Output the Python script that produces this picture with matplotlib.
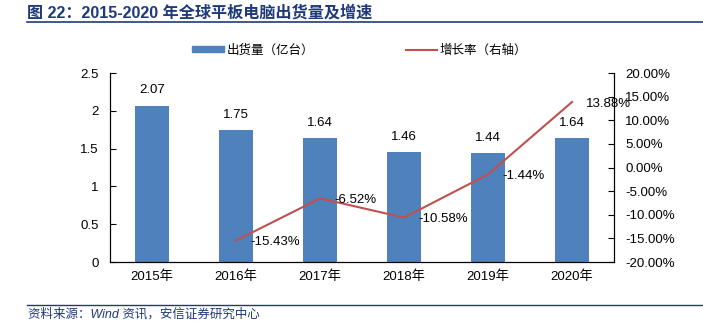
import matplotlib.pyplot as plt
from matplotlib.lines import Line2D
from matplotlib.patches import Patch
import numpy as np

plt.rcParams['font.family'] = ['Liberation Sans', 'Noto Sans CJK SC', 'DejaVu Sans']

years = ["2015年", "2016年", "2017年", "2018年", "2019年", "2020年"]
shipments = [2.07, 1.75, 1.64, 1.46, 1.44, 1.64]
growth = [np.nan, -15.43, -6.52, -10.58, -1.44, 13.88]

BAR_C = "#4F81BD"
LINE_C = "#C0504D"
TITLE_C = "#1F3A7A"

fig = plt.figure(figsize=(7.03, 3.26), dpi=100)
ax = fig.add_axes([0.1565, 0.196, 0.717, 0.580])
x = np.arange(len(years))
ax.bar(x, shipments, width=0.4, color=BAR_C, zorder=2)
for xi, v in zip(x, shipments):
    ax.text(xi, v + 0.12, f"{v:.2f}", ha="center", va="bottom", fontsize=9.5)
ax.set_xlim(-0.5, 5.5)
ax.set_ylim(0, 2.5)
ax.set_yticks([0, 0.5, 1, 1.5, 2, 2.5])
ax.set_yticklabels(["0", "0.5", "1", "1.5", "2", "2.5"])
ax.set_xticks(x)
ax.set_xticklabels(years)
ax.tick_params(axis="y", direction="in", length=4, labelsize=9.5, pad=8)
ax.tick_params(axis="x", length=0, labelsize=9.5, pad=6)
ax.spines["top"].set_visible(False)

ax2 = ax.twinx()
ax2.plot(x, growth, color=LINE_C, linewidth=1.5, zorder=3)
for xi, g in zip(x, growth):
    if np.isnan(g):
        continue
    ax2.text(xi + 0.165, g - 0.4, f"{g:.2f}%", ha="left", va="center", fontsize=9.5)
ax2.set_ylim(-20, 20)
ax2.set_yticks(np.arange(-20, 21, 5))
ax2.set_yticklabels([f"{t:.2f}%" for t in np.arange(-20, 21, 5)])
ax2.tick_params(axis="y", direction="in", length=4, labelsize=9.5, pad=8)
ax2.spines["top"].set_visible(False)

handles = [Patch(color=BAR_C), Line2D([0], [0], color=LINE_C, lw=1.5)]
fig.legend(handles, ["出货量（亿台）", "增长率（右轴）"], loc="center",
           bbox_to_anchor=(0.512, 0.845), ncol=2, frameon=False, fontsize=9,
           handlelength=2.5, handleheight=0.35, columnspacing=7.3, handletextpad=0.25)

fig.text(0.038, 0.962, "图 22：2015-2020 年全球平板电脑出货量及增速", fontsize=11.6,
         fontweight="bold", color=TITLE_C, va="center")
fig.add_artist(Line2D([0.038, 1.0], [0.932, 0.932], color=TITLE_C, lw=1.2))
fig.add_artist(Line2D([0.038, 1.0], [0.063, 0.063], color=TITLE_C, lw=1.0))
fig.text(0.04, 0.035, "资料来源：Wind 资讯，安信证券研究中心", fontsize=9,
         style="italic", color=TITLE_C, va="center")

fig.savefig("out.png", dpi=100)
